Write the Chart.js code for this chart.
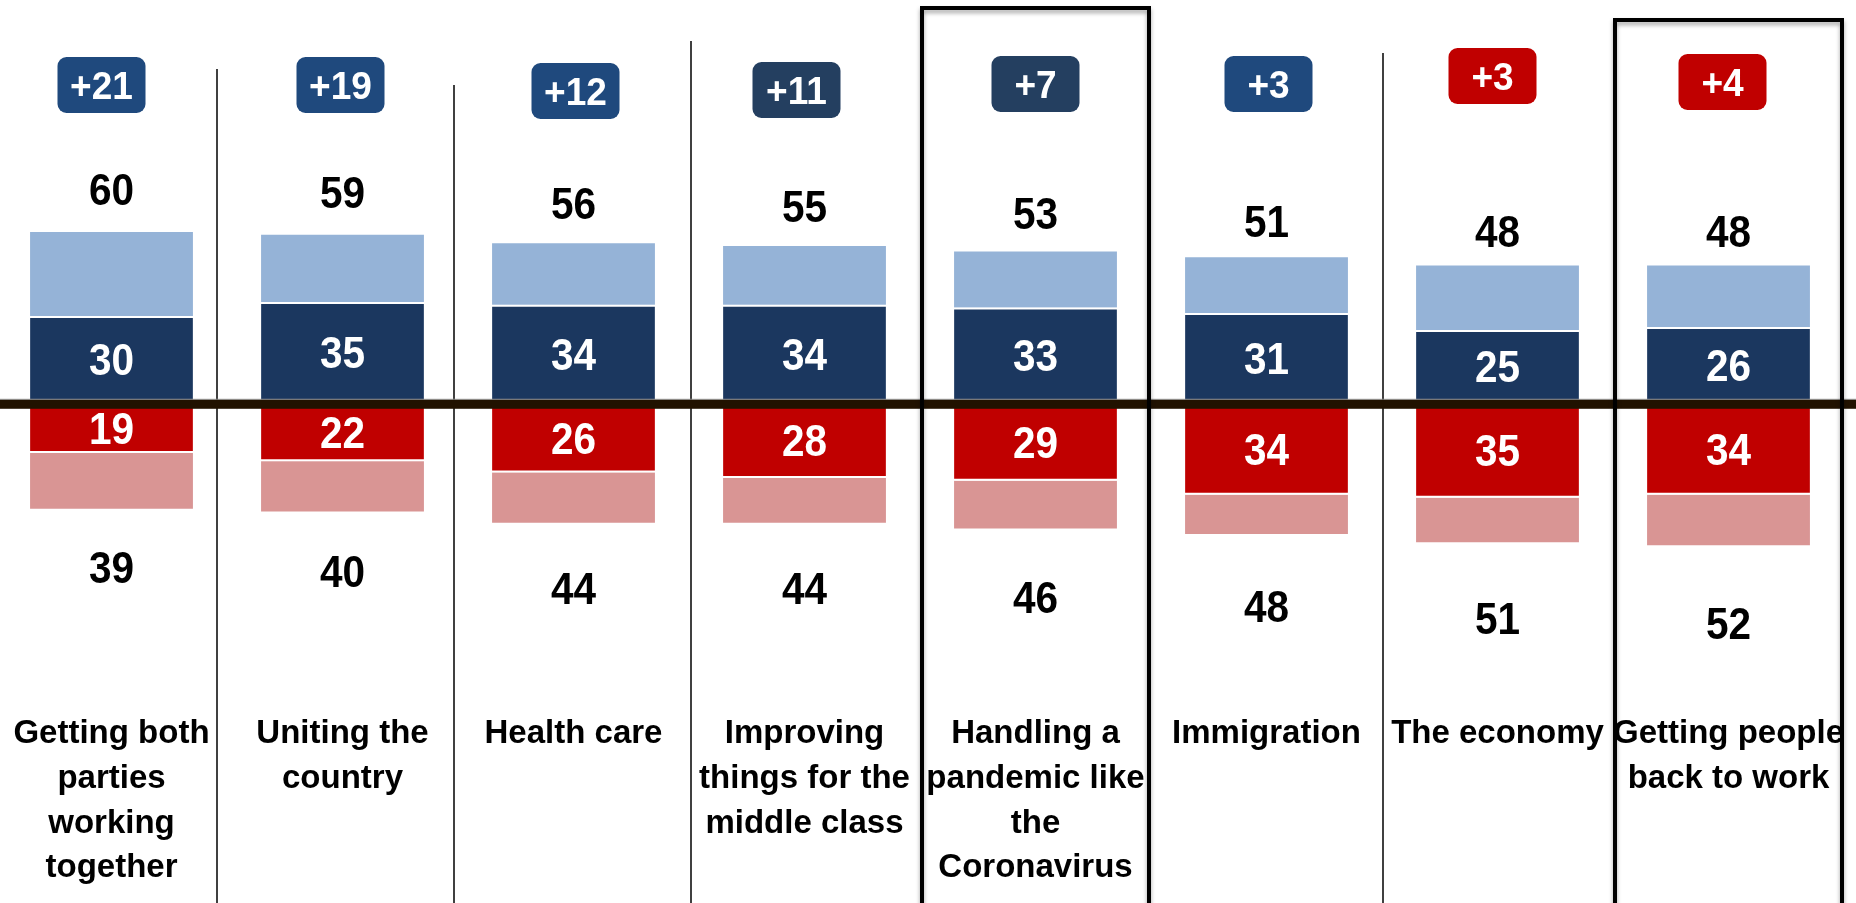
<!DOCTYPE html>
<html>
<head>
<meta charset="utf-8">
<script src="https://cdn.jsdelivr.net/npm/chart.js@4.4.1/dist/chart.umd.min.js"></script>
<style>
  html, body { margin: 0; padding: 0; background: #fff; overflow: hidden; }
  #wrap { position: absolute; left: -4px; top: 0; width: 1862px; height: 903px; }
</style>
</head>
<body>
<div id="wrap"><canvas id="chart" width="1862" height="903"></canvas></div>
<script>
// categories, one line of the label per entry
var categories = [
    ['Getting both', 'parties', 'working', 'together'],
    ['Uniting the', 'country'],
    ['Health care'],
    ['Improving', 'things for the', 'middle class'],
    ['Handling a', 'pandemic like', 'the', 'Coronavirus'],
    ['Immigration'],
    ['The economy'],
    ['Getting people', 'back to work']
];

// blue side (above the line)
var blueStrong = [30, 35, 34, 34, 33, 31, 25, 26];
var blueSoft   = [30, 24, 22, 21, 20, 20, 23, 22];
var blueTotal  = [60, 59, 56, 55, 53, 51, 48, 48];

// red side (below the line)
var redStrong = [19, 22, 26, 28, 29, 34, 35, 34];
var redSoft   = [20, 18, 18, 16, 17, 14, 16, 18];
var redTotal  = [39, 40, 44, 44, 46, 48, 51, 52];

// net advantage badges
var netLabels = ['+21', '+19', '+12', '+11', '+7', '+3', '+3', '+4'];

// ---- styles ----
var FONT = '"Liberation Sans", Arial, sans-serif';
var badgeFill = ['#1f497d', '#1f497d', '#1f497d', '#243f60', '#243f60', '#1f497d', '#c00000', '#c00000'];
// badges were placed by hand in the original, small offsets [dx, dy]
var badgeNudge = [[-10, 1], [-2, 1], [2, 7], [-8, 6], [0, 0], [2, 0], [-5, -8], [-6, -2]];
var boxedCols = { 4: 8, 7: 20 };                 // column index -> top of the frame
var dividers = { 0: [69, -10], 1: [85, -4], 2: [41, 2], 5: [53, 1] }; // after column i -> [top, x nudge]

// narrower text, the original uses a condensed face
function squeezed(ctx, text, x, y, sx) {
    ctx.save();
    ctx.translate(x, y);
    ctx.scale(sx, 1);
    ctx.fillText(text, 0, 0);
    ctx.restore();
}

var overlay = {
    id: 'overlay',
    afterDatasetsDraw: function(chart) {
        var ctx = chart.ctx;
        var xs = chart.scales.x, ys = chart.scales.y;
        var H = chart.height;
        var half = (xs.getPixelForValue(1) - xs.getPixelForValue(0)) / 2;
        var zero = ys.getPixelForValue(0);

        ctx.save();
        // thin column dividers
        ctx.strokeStyle = '#000';
        ctx.lineWidth = 1.5;
        Object.keys(dividers).forEach(function(k) {
            var x = xs.getPixelForValue(+k) + half + dividers[k][1];
            ctx.beginPath();
            ctx.moveTo(x, dividers[k][0]);
            ctx.lineTo(x, H);
            ctx.stroke();
        });

        // the thick zero line
        ctx.fillStyle = '#9a9a9a';
        ctx.fillRect(0, zero - 1, chart.width, 1);
        ctx.fillStyle = '#211200';
        ctx.fillRect(0, zero, chart.width, 9);

        // frames around highlighted columns
        Object.keys(boxedCols).forEach(function(k) {
            var cx = xs.getPixelForValue(+k);
            var top = boxedCols[k];
            ctx.save();
            ctx.shadowColor = 'rgba(0,0,0,0.35)';
            ctx.shadowBlur = 4;
            ctx.shadowOffsetY = 3;
            ctx.strokeStyle = '#000';
            ctx.lineWidth = 4;
            ctx.beginPath();
            ctx.moveTo(cx - half + 2, H + 5);
            ctx.lineTo(cx - half + 2, top);
            ctx.lineTo(cx + half - 2, top);
            ctx.lineTo(cx + half - 2, H + 5);
            ctx.stroke();
            ctx.restore();
        });

        ctx.textAlign = 'center';
        ctx.textBaseline = 'middle';
        categories.forEach(function(lines, i) {
            var cx = xs.getPixelForValue(i);
            var bx = cx + badgeNudge[i][0], by = 84 + badgeNudge[i][1];

            // badge
            ctx.fillStyle = badgeFill[i];
            ctx.beginPath();
            ctx.roundRect(bx - 44, by - 28, 88, 56, 9);
            ctx.fill();
            ctx.fillStyle = '#fff';
            ctx.font = 'bold 39px ' + FONT;
            squeezed(ctx, netLabels[i], bx, by + 3, 0.95);

            // totals
            ctx.fillStyle = '#000';
            ctx.font = 'bold 45px ' + FONT;
            squeezed(ctx, String(blueTotal[i]), cx, ys.getPixelForValue(blueTotal[i] * 1.26) + 4, 0.9);
            squeezed(ctx, String(redTotal[i]), cx, ys.getPixelForValue(-redTotal[i] * 1.53) + 4, 0.9);

            // values inside the strong segments
            ctx.fillStyle = '#fff';
            squeezed(ctx, String(blueStrong[i]), cx, (zero + ys.getPixelForValue(blueStrong[i])) / 2 + 5, 0.9);
            squeezed(ctx, String(redStrong[i]), cx, (zero + ys.getPixelForValue(-redStrong[i])) / 2 + 5, 0.9);

            // category label
            ctx.fillStyle = '#000';
            ctx.font = 'bold 33px ' + FONT;
            lines.forEach(function(t, j) {
                ctx.fillText(t, cx, 734 + j * 44.8);
            });
        });
        ctx.restore();
    }
};

var ctx = document.getElementById('chart').getContext('2d');
new Chart(ctx, {
    type: 'bar',
    data: {
        labels: categories.map(function(c) { return c.join(' '); }),
        datasets: [
            { label: 'Strong blue', data: blueStrong, backgroundColor: '#1b375f', borderColor: '#fff',
              borderWidth: { top: 2, right: 0, bottom: 0, left: 0 }, borderSkipped: false, stack: 's' },
            { label: 'Soft blue', data: blueSoft, backgroundColor: '#95b3d7', borderWidth: 0, stack: 's' },
            { label: 'Strong red', data: redStrong.map(function(v) { return -v; }), backgroundColor: '#c00000', borderColor: '#fff',
              borderWidth: { top: 0, right: 0, bottom: 2, left: 0 }, borderSkipped: false, stack: 's' },
            { label: 'Soft red', data: redSoft.map(function(v) { return -v; }), backgroundColor: '#d99594', borderWidth: 0, stack: 's' }
        ]
    },
    options: {
        animation: false,
        responsive: false,
        maintainAspectRatio: false,
        layout: { padding: { left: 0, right: 14, top: 0, bottom: 0 } },
        datasets: { bar: { categoryPercentage: 0.705, barPercentage: 1 } },
        scales: {
            x: { stacked: true, display: false },
            y: { stacked: true, display: false, min: -180, max: 143 }
        },
        plugins: {
            legend: { display: false },
            tooltip: { enabled: false }
        }
    },
    plugins: [overlay]
});
</script>
</body>
</html>
